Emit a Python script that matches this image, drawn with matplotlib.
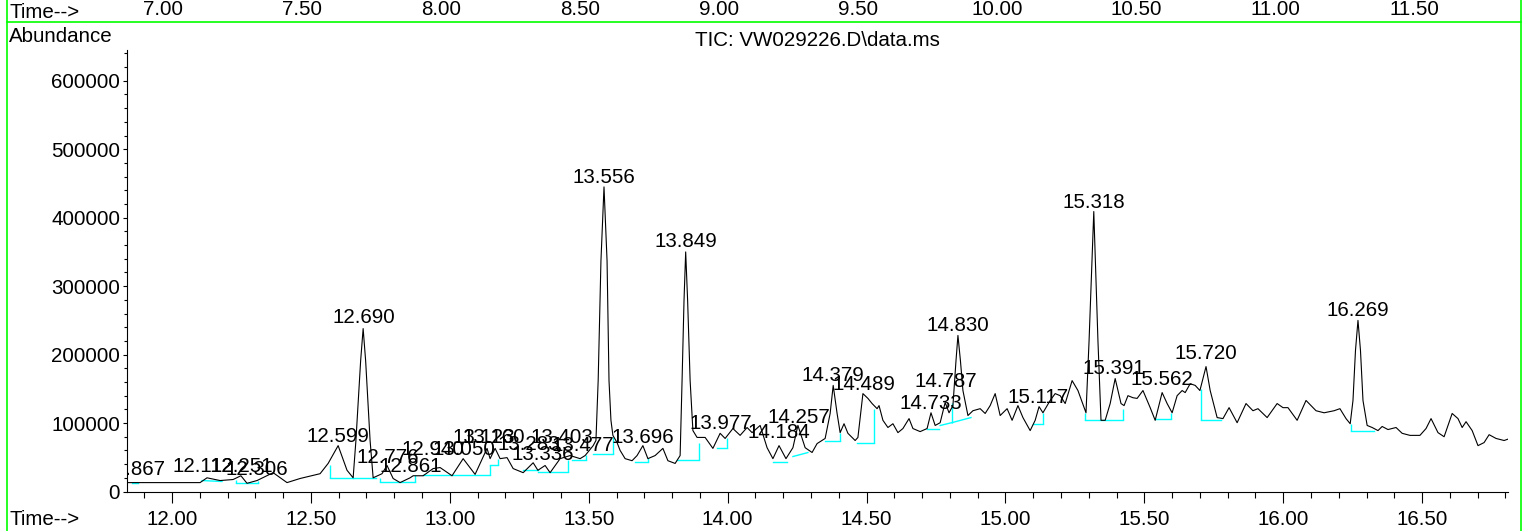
import matplotlib.pyplot as plt
from matplotlib.lines import Line2D
from matplotlib.ticker import MultipleLocator, FormatStrFormatter

plt.rcParams['font.family'] = ['Liberation Sans', 'DejaVu Sans']
FS = 14.8

# -------- TIC trace (min, abundance) --------
time = [11.838, 12.101, 12.126, 12.173, 12.220, 12.248, 12.270, 12.306, 12.364, 12.414,
        12.461, 12.533, 12.562, 12.598, 12.630, 12.652, 12.662, 12.679, 12.688, 12.697,
        12.713, 12.724, 12.756, 12.774, 12.796, 12.821, 12.857, 12.868, 12.904, 12.940,
        12.965, 13.008, 13.048, 13.091, 13.134, 13.145, 13.163, 13.181, 13.206, 13.228,
        13.264, 13.300, 13.317, 13.343, 13.361, 13.397, 13.433, 13.469, 13.487, 13.516,
        13.526, 13.534, 13.544, 13.555, 13.566, 13.573, 13.580, 13.587, 13.602, 13.613,
        13.631, 13.656, 13.674, 13.695, 13.713, 13.739, 13.767, 13.785, 13.811, 13.829,
        13.836, 13.843, 13.849, 13.856, 13.865, 13.875, 13.890, 13.919, 13.947, 13.973,
        13.991, 14.019, 14.045, 14.070, 14.088, 14.117, 14.142, 14.163, 14.185, 14.210,
        14.235, 14.253, 14.279, 14.304, 14.322, 14.351, 14.369, 14.380, 14.394, 14.405,
        14.419, 14.433, 14.459, 14.469, 14.487, 14.505, 14.520, 14.538, 14.545, 14.559,
        14.577, 14.595, 14.613, 14.631, 14.653, 14.667, 14.693, 14.718, 14.732, 14.747,
        14.765, 14.783, 14.797, 14.811, 14.822, 14.829, 14.838, 14.847, 14.865, 14.883,
        14.909, 14.927, 14.945, 14.963, 14.981, 15.006, 15.024, 15.045, 15.063, 15.089,
        15.107, 15.121, 15.135, 15.161, 15.179, 15.197, 15.215, 15.240, 15.261, 15.290,
        15.301, 15.318, 15.333, 15.344, 15.359, 15.377, 15.395, 15.416, 15.427, 15.441,
        15.459, 15.474, 15.495, 15.521, 15.539, 15.564, 15.582, 15.600, 15.618, 15.636,
        15.647, 15.665, 15.683, 15.700, 15.722, 15.737, 15.762, 15.783, 15.805, 15.834,
        15.866, 15.891, 15.909, 15.942, 15.978, 15.999, 16.017, 16.050, 16.082, 16.118,
        16.147, 16.183, 16.204, 16.226, 16.241, 16.251, 16.260, 16.269, 16.278, 16.287,
        16.302, 16.320, 16.341, 16.356, 16.377, 16.406, 16.428, 16.456, 16.492, 16.514,
        16.532, 16.557, 16.579, 16.608, 16.629, 16.644, 16.658, 16.680, 16.701, 16.723,
        16.741, 16.766, 16.795, 16.816]
abund = [13000, 13000, 20000, 16000, 17500, 23000, 12000, 16000, 27500, 13000,
         19000, 26000, 41000, 67000, 31000, 20000, 74500, 191000, 238000, 191000,
         74500, 20000, 26000, 38000, 19000, 13000, 20000, 23000, 23000, 33500,
         35000, 23000, 48000, 25000, 63000, 48000, 63000, 48000, 49500, 33500,
         27500, 42000, 31000, 38000, 27500, 48000, 52500, 48000, 52500, 67000,
         74500, 162000, 337000, 445000, 337000, 162000, 104000, 82000, 71500, 60000,
         48000, 45000, 52500, 67000, 48000, 52500, 63000, 45000, 41000, 52500,
         162000, 279000, 350000, 279000, 162000, 89000, 79000, 79000, 63000, 85000,
         77500, 92000, 82000, 93500, 86000, 96500, 64000, 48000, 67000, 48000,
         64000, 96500, 64000, 57000, 70000, 77500, 114000, 155000, 114000, 86000,
         99000, 85000, 74500, 79000, 143000, 136000, 128500, 121000, 125500, 104000,
         93500, 99000, 86000, 92000, 106500, 92000, 87500, 92000, 115000, 96500,
         100500, 130000, 115000, 125500, 191000, 228000, 191000, 147500, 111000, 118000,
         121000, 114000, 125500, 143000, 111000, 121000, 104000, 125500, 108000, 89000,
         104000, 124000, 115000, 133000, 143000, 140000, 128500, 162000, 147500, 115000,
         220000, 409000, 220000, 104000, 104000, 128500, 165000, 128500, 125500, 140000,
         137000, 136000, 147500, 122500, 104000, 144500, 128500, 115000, 140000, 147500,
         144500, 157500, 155000, 147500, 182500, 147500, 108000, 106500, 122500, 100500,
         128500, 118000, 121000, 108000, 128500, 122500, 122500, 104000, 133000, 118000,
         115000, 118000, 121000, 106500, 99000, 133000, 206000, 250000, 206000, 133000,
         96500, 93500, 89000, 95000, 90500, 93500, 85000, 82000, 82000, 92000,
         106500, 86000, 80000, 114000, 106500, 93500, 102000, 89000, 67000, 71500,
         83000, 77500, 74500, 77500]

# -------- labelled peaks --------
peak_rt = [11.867, 12.112, 12.251, 12.306, 12.599, 12.690, 12.776, 12.861, 12.940, 13.050,
           13.123, 13.160, 13.283, 13.336, 13.403, 13.477, 13.556, 13.696, 13.849, 13.977,
           14.184, 14.257, 14.379, 14.489, 14.733, 14.787, 14.830, 15.117, 15.318, 15.391,
           15.562, 15.720, 16.269]
peak_ab = [17500, 21900, 21900, 17500, 65700, 239400, 35000, 21900, 46700, 46700,
           64200, 64200, 54000, 39400, 64200, 52600, 445300, 64200, 350400, 84700,
           71500, 93400, 154800, 141600, 113900, 146000, 227800, 122600, 408800, 165000,
           148900, 186900, 249700]

# -------- integration baselines (cyan) --------
base_t0 = [11.856, 12.108, 12.230, 12.569, 12.652, 12.749, 12.904, 13.145, 13.264, 13.317,
           13.440, 13.516, 13.667, 13.818, 13.962, 14.163, 14.235, 14.351, 14.466, 14.718,
           14.765, 14.808, 15.099, 15.287, 15.539, 15.704, 16.244]
base_t1 = [11.878, 12.180, 12.310, 12.652, 12.734, 12.875, 13.145, 13.174, 13.317, 13.425,
           13.490, 13.587, 13.713, 13.898, 13.998, 14.214, 14.289, 14.405, 14.527, 14.761,
           14.808, 14.876, 15.135, 15.423, 15.596, 15.776, 16.327]
base_a0 = [11700, 16000, 11700, 20400, 19000, 14600, 23400, 38000, 30700, 29200,
           46700, 55500, 43800, 45300, 64200, 43800, 51100, 74500, 71500, 92000,
           96400, 100700, 99300, 105100, 106600, 105100, 89100]
base_a1 = [11700, 14600, 11700, 20400, 19000, 14600, 23400, 38000, 30700, 29200,
           46700, 55500, 43800, 45300, 64200, 43800, 56900, 74500, 71500, 92000,
           100700, 108000, 99300, 105100, 106600, 105100, 89100]

drop_t = [12.230, 12.310, 12.569, 12.749, 12.875, 13.145, 13.174, 13.425, 13.490, 13.587,
          13.713, 13.898, 13.998, 14.405, 14.527, 14.808, 15.135, 15.287, 15.423, 15.596,
          15.704, 16.244]
drop_lo = [11700, 11700, 20400, 14600, 14600, 23400, 38000, 29200, 46700, 55500,
           43800, 45300, 64200, 74500, 71500, 100700, 99300, 105100, 105100, 106600,
           105100, 89100]
drop_hi = [17500, 16000, 38000, 20400, 23400, 38000, 48200, 46700, 52600, 80300,
           49600, 71500, 78800, 86100, 121200, 129900, 115300, 115300, 121200, 115300,
           150400, 99300]

# tick labels of the panel above (only its bottom edge is visible)
prev_ticks = [7.0, 7.5, 8.0, 8.5, 9.0, 9.5, 10.0, 10.5, 11.0, 11.5]


def main():
    W, H = 1526, 531
    fig = plt.figure(figsize=(W / 100, H / 100), dpi=100)

    ax = fig.add_axes([127 / W, 1 - 491.5 / H, (1508 - 127) / W, (491.5 - 50) / H])
    ax.set_xlim(11.838, 16.809)
    ax.set_ylim(0, 645000)

    for t0, t1, a0, a1 in zip(base_t0, base_t1, base_a0, base_a1):
        ax.plot([t0, t1], [a0, a1], color='#00ffff', lw=1.0, zorder=2)
    ax.vlines(drop_t, drop_lo, drop_hi, colors='#00ffff', lw=1.0, zorder=2)
    ax.plot(time, abund, color='black', lw=0.8, zorder=3)

    for rt, ab in zip(peak_rt, peak_ab):
        ax.annotate(f'{rt:.3f}', (rt, ab), xytext=(0, 3), textcoords='offset points',
                    ha='center', va='baseline', fontsize=FS, clip_on=True, zorder=4)

    ax.xaxis.set_major_locator(MultipleLocator(0.5))
    ax.xaxis.set_minor_locator(MultipleLocator(0.1))
    ax.xaxis.set_major_formatter(FormatStrFormatter('%.2f'))
    ax.yaxis.set_major_locator(MultipleLocator(100000))
    ax.yaxis.set_minor_locator(MultipleLocator(20000))
    ax.tick_params(axis='x', which='major', length=8, width=0.8, pad=5, labelsize=FS)
    ax.tick_params(axis='x', which='minor', length=4.5, width=0.8)
    ax.tick_params(axis='y', which='major', length=3, width=0.8, pad=2, labelsize=FS)
    ax.tick_params(axis='y', which='minor', length=2, width=0.8)
    for s in ['top', 'right']:
        ax.spines[s].set_visible(False)
    for s in ['left', 'bottom']:
        ax.spines[s].set_linewidth(0.8)
    ax.set_title(r'TIC: VW029226.D\data.ms', pad=2, fontsize=FS)

    # cut-off panel above
    ax_top = fig.add_axes([127 / W, 1.0, (1508 - 127) / W, 0.05])
    ax_top.set_xlim(6.871, 11.838)
    ax_top.set_xticks(prev_ticks)
    ax_top.xaxis.set_major_formatter(FormatStrFormatter('%.2f'))
    ax_top.set_yticks([])
    ax_top.tick_params(axis='x', length=0, pad=0, labelsize=FS)
    for s in ax_top.spines.values():
        s.set_visible(False)
    ax_top.patch.set_visible(False)

    fig.text(9 / W, 1 - 18 / H, 'Time-->', fontsize=FS, va='baseline')
    fig.text(9 / W, 1 - 42 / H, 'Abundance', fontsize=FS, va='baseline')
    fig.text(9 / W, 1 - 525 / H, 'Time-->', fontsize=FS, va='baseline')

    green = '#00ff00'
    fig.add_artist(Line2D([7 / W, 1521 / W], [1 - 22 / H, 1 - 22 / H], color=green,
                          lw=1.2, transform=fig.transFigure))
    fig.add_artist(Line2D([7 / W, 7 / W], [0, 1], color=green, lw=1.2,
                          transform=fig.transFigure))
    fig.add_artist(Line2D([1521 / W, 1521 / W], [0, 1], color=green, lw=1.2,
                          transform=fig.transFigure))

    fig.savefig('out.png', dpi=100)


if __name__ == '__main__':
    main()
